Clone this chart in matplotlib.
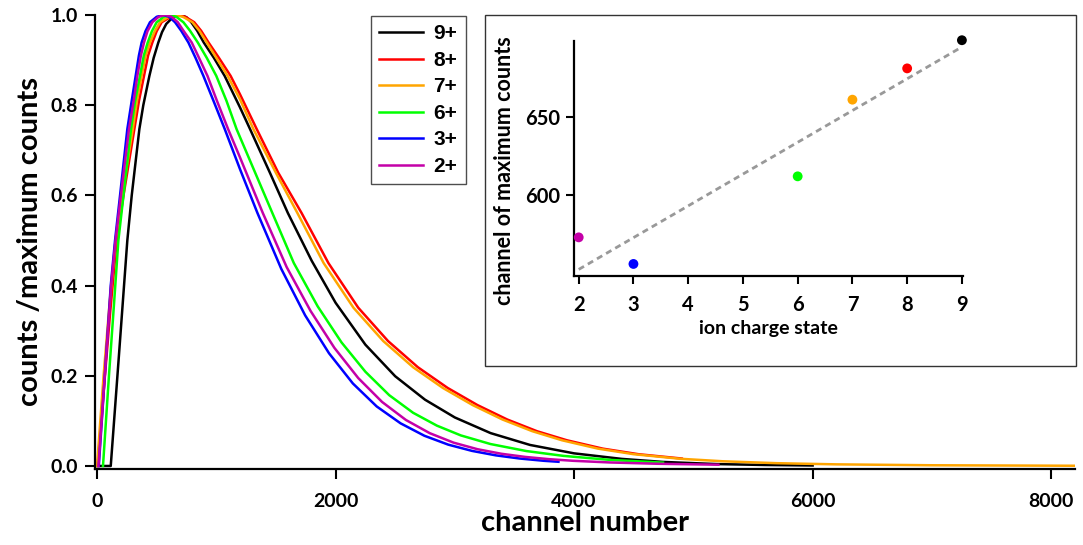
import matplotlib
matplotlib.use("Agg")
import matplotlib.pyplot as plt
from matplotlib.patches import Rectangle

# charge states, legend labels and line colours (legend order)
charge_labels = ["9+", "8+", "7+", "6+", "3+", "2+"]
charge_states = [9, 8, 7, 6, 3, 2]
line_colors = ["#000000", "#ff0000", "#ffa500", "#00ff00", "#0000ff", "#c400a8"]

# channel of maximum counts for each charge state
peak_channel = [699, 681, 661, 612, 556, 573]

# straight line drawn through the inset (end points)
fit_x = [2, 9]
fit_y = [552.5, 694.7]

# normalised spectra: channel number and counts / maximum counts
ch_9 = [0, 115, 185, 254, 291, 355, 388, 439, 475, 514, 545, 580, 640, 699, 750, 790, 840, 895,
        980, 1070, 1199, 1283, 1450, 1600, 1800, 2000, 2250, 2500, 2750, 3000, 3300, 3631, 4000,
        4400, 4746, 5200, 5600, 6000]
cnt_9 = [0, 0, 0.25, 0.50, 0.60, 0.747, 0.80, 0.865, 0.905, 0.939, 0.962, 0.98, 0.996, 1.0, 0.995, 0.984, 0.965, 0.939,
         0.905, 0.865, 0.795, 0.747, 0.65, 0.561, 0.455, 0.362, 0.269, 0.199, 0.147, 0.1076, 0.0729, 0.0466, 0.028,
         0.0157, 0.009, 0.0042, 0.0022, 0.0011]

ch_8 = [5, 60, 110, 165, 222, 313, 352, 394, 428, 464, 500, 542, 620, 681, 740, 815, 873, 935,
        1022, 1120, 1199, 1339, 1520, 1715, 1940, 2190, 2440, 2690, 2940, 3190, 3440, 3690, 3940,
        4240, 4540, 4903]
cnt_8 = [0, 0.18, 0.34, 0.50, 0.60, 0.747, 0.81, 0.865, 0.91, 0.939, 0.964, 0.984, 0.996, 1.0, 0.996, 0.984, 0.965, 0.939,
         0.905, 0.865, 0.824, 0.747, 0.65, 0.561, 0.45, 0.351, 0.277, 0.219, 0.173, 0.135, 0.103, 0.077, 0.057,
         0.0385, 0.0261, 0.0165]

ch_7 = [0, 55, 105, 155, 210, 300, 335, 374, 408, 444, 484, 528, 600, 661, 720, 800, 858, 920,
        1000, 1095, 1199, 1311, 1500, 1680, 1900, 2150, 2400, 2650, 2900, 3150, 3400, 3650, 3900,
        4200, 4500, 4889, 5250, 5700, 6200, 7000, 8200]
cnt_7 = [0, 0.2, 0.36, 0.50, 0.60, 0.747, 0.81, 0.865, 0.91, 0.939, 0.964, 0.984, 0.996, 1.0, 0.996, 0.984, 0.965, 0.939,
         0.905, 0.865, 0.813, 0.747, 0.65, 0.561, 0.45, 0.351, 0.277, 0.219, 0.173, 0.135, 0.103, 0.0771, 0.0569,
         0.0385, 0.0261, 0.016, 0.0104, 0.0062, 0.0036, 0.0016, 0.0005]

ch_6 = [50, 100, 140, 179, 222, 285, 320, 360, 392, 425, 460, 500, 560, 612, 665, 724, 780, 845,
        920, 1000, 1085, 1170, 1470, 1650, 1850, 2050, 2250, 2450, 2650, 2850, 3050, 3300, 3600,
        3911, 4300, 4746]
cnt_6 = [0, 0.2, 0.35, 0.50, 0.60, 0.747, 0.81, 0.865, 0.91, 0.939, 0.964, 0.984, 0.996, 1.0, 0.996, 0.984, 0.965, 0.939,
         0.905, 0.865, 0.81, 0.747, 0.561, 0.45, 0.354, 0.274, 0.209, 0.157, 0.118, 0.0894, 0.0678, 0.0486, 0.0331,
         0.0224, 0.0135, 0.0074]

ch_3 = [15, 65, 115, 151, 193, 254, 291, 324, 351, 374, 406, 444, 500, 556, 605, 654, 706, 766,
        826, 892, 976, 1071, 1199, 1345, 1545, 1745, 1945, 2145, 2345, 2545, 2745, 2945, 3145,
        3345, 3545, 3745, 3869]
cnt_3 = [0, 0.2, 0.40, 0.50, 0.60, 0.747, 0.81, 0.865, 0.91, 0.939, 0.964, 0.984, 0.996, 1.0, 0.996, 0.984, 0.965, 0.939,
         0.905, 0.865, 0.81, 0.747, 0.658, 0.561, 0.437, 0.334, 0.250, 0.183, 0.132, 0.0946, 0.067, 0.0473, 0.0334,
         0.0235, 0.0165, 0.0115, 0.0093]

ch_2 = [12, 65, 118, 155, 200, 268, 308, 338, 368, 394, 423, 464, 517, 573, 625, 677, 725, 794,
        855, 926, 1005, 1099, 1199, 1390, 1590, 1790, 1990, 2190, 2390, 2590, 2790, 2990, 3190,
        3390, 3590, 3790, 3990, 4300, 4700, 5210]
cnt_2 = [0, 0.2, 0.40, 0.50, 0.60, 0.747, 0.81, 0.865, 0.91, 0.939, 0.964, 0.984, 0.996, 1.0, 0.996, 0.984, 0.965, 0.939,
         0.905, 0.865, 0.81, 0.747, 0.684, 0.561, 0.441, 0.344, 0.262, 0.195, 0.142, 0.102, 0.0727, 0.0517, 0.0372,
         0.0271, 0.0201, 0.0151, 0.0115, 0.0078, 0.0049, 0.0028]

x_ticks = [0, 2000, 4000, 6000, 8000]
y_ticks = [0.0, 0.2, 0.4, 0.6, 0.8, 1.0]
inset_x_ticks = [2, 3, 4, 5, 6, 7, 8, 9]
inset_y_ticks = [600, 650]

spectra = [(ch_9, cnt_9), (ch_8, cnt_8), (ch_7, cnt_7), (ch_6, cnt_6), (ch_3, cnt_3), (ch_2, cnt_2)]

LABEL_FONT = "Lato"
W, H = 1083, 545
fig = plt.figure(figsize=(W / 100, H / 100), dpi=100)


def fx(px):
    return px / W


def fy(py):
    return 1 - py / H


# ---- main spectrum axes ----
ax = fig.add_axes([fx(95), fy(469), fx(1075) - fx(95), fy(15) - fy(469)])
for (ch, cnt), lab, col in zip(spectra, charge_labels, line_colors):
    ax.plot(ch, cnt, color=col, lw=1.8, label=lab, solid_joinstyle="round")

ax.set_xlim(-17, 8200)
ax.set_ylim(-0.0067, 1.0)
ax.set_xticks(x_ticks)
ax.set_yticks(y_ticks)
ax.set_yticklabels([f"{v:.1f}" for v in y_ticks])
for s in ["top", "right"]:
    ax.spines[s].set_visible(False)
for s in ["left", "bottom"]:
    ax.spines[s].set_linewidth(1.6)
ax.tick_params(direction="out", length=7, width=1.5, labelsize=14, pad=5)
ax.tick_params(axis="x", pad=10)
for t in ax.get_xticklabels() + ax.get_yticklabels():
    t.set_fontfamily(LABEL_FONT)
    t.set_fontweight("bold")
ax.set_xlabel("channel number", fontsize=21, fontweight="bold", family=LABEL_FONT, labelpad=0)
ax.set_ylabel("counts /maximum counts", fontsize=21, fontweight="bold", family=LABEL_FONT, labelpad=6)

leg = ax.legend(loc="upper left", bbox_to_anchor=(fx(371), fy(16)), bbox_transform=fig.transFigure,
                borderaxespad=0, frameon=True, fancybox=False, handlelength=2.1, handletextpad=0.5,
                labelspacing=0.36, borderpad=0.4,
                prop={"family": "Liberation Sans", "weight": "bold", "size": 15})
leg.get_frame().set_edgecolor("#222222")
leg.get_frame().set_linewidth(1.0)

# ---- framed inset ----
frame = Rectangle((fx(485), fy(366)), fx(1076) - fx(485), fy(15) - fy(366), transform=fig.transFigure,
                  facecolor="white", edgecolor="#333333", linewidth=1.0, zorder=3)
fig.add_artist(frame)

ins = fig.add_axes([fx(574), fy(276), fx(963) - fx(574), fy(41) - fy(276)], zorder=4)
ins.patch.set_alpha(0)
ins.plot(fit_x, fit_y, color="#999999", lw=2.0, linestyle=(0, (2.2, 1.6)))
ins.scatter(charge_states, peak_channel, c=line_colors, s=50, zorder=5, clip_on=False, linewidths=0)
ins.set_xlim(1.914, 9.02)
ins.set_ylim(548.3, 698.5)
ins.set_xticks(inset_x_ticks)
ins.set_yticks(inset_y_ticks)
for s in ["top", "right"]:
    ins.spines[s].set_visible(False)
for s in ["left", "bottom"]:
    ins.spines[s].set_linewidth(1.6)
ins.tick_params(direction="out", length=6, width=1.5, labelsize=14.5, pad=4)
ins.tick_params(axis="x", pad=8)
for t in ins.get_xticklabels() + ins.get_yticklabels():
    t.set_fontfamily(LABEL_FONT)
    t.set_fontweight("bold")
ins.set_xlabel("ion charge state", fontsize=14, fontweight="bold", family=LABEL_FONT, labelpad=3)
ins.set_ylabel("channel of maximum counts", fontsize=15.5, fontweight="bold", family=LABEL_FONT)
ins.yaxis.set_label_coords(-0.152, 0.447)

fig.savefig("out.png", dpi=100)
